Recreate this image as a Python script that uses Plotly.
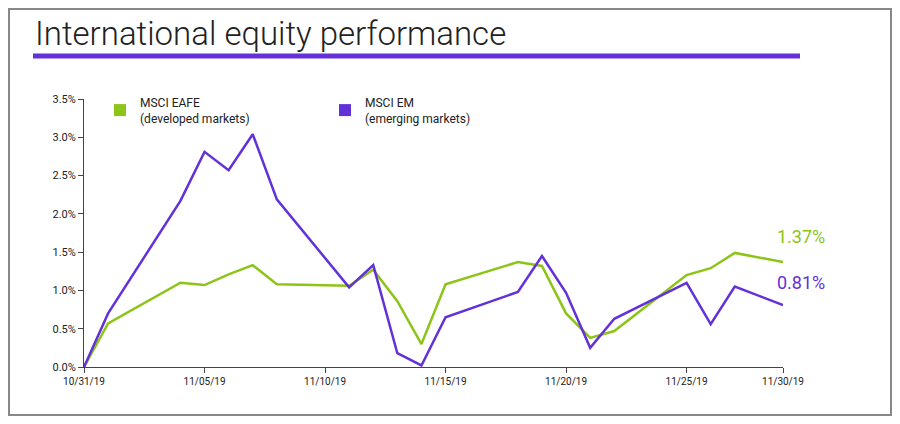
import plotly.graph_objects as go

dates = ["2019-10-31", "2019-11-01", "2019-11-04", "2019-11-05", "2019-11-06", "2019-11-07",
         "2019-11-08", "2019-11-11", "2019-11-12", "2019-11-13", "2019-11-14", "2019-11-15",
         "2019-11-18", "2019-11-19", "2019-11-20", "2019-11-21", "2019-11-22", "2019-11-25",
         "2019-11-26", "2019-11-27", "2019-11-29"]
eafe = [0.0, 0.57, 1.10, 1.07, 1.21, 1.33, 1.08, 1.06, 1.27, 0.86, 0.30, 1.08,
        1.37, 1.32, 0.70, 0.38, 0.47, 1.20, 1.29, 1.49, 1.37]
em = [0.0, 0.70, 2.17, 2.81, 2.57, 3.04, 2.19, 1.04, 1.33, 0.18, 0.02, 0.65,
      0.98, 1.45, 0.97, 0.25, 0.63, 1.10, 0.56, 1.05, 0.81]
tick_dates = ["2019-10-31", "2019-11-05", "2019-11-10", "2019-11-15", "2019-11-20",
              "2019-11-25", "2019-11-29"]
tick_text = ["10/31/19", "11/05/19", "11/10/19", "11/15/19", "11/20/19", "11/25/19", "11/30/19"]

GREEN = "#8cc418"
PURPLE = "#6331d8"
FONT = "Roboto"

fig = go.Figure()
fig.add_trace(go.Scatter(x=dates, y=eafe, mode="lines", line=dict(color=GREEN, width=2.5), showlegend=False))
fig.add_trace(go.Scatter(x=dates, y=em, mode="lines", line=dict(color=PURPLE, width=2.5), showlegend=False))
# legend entries with square swatches
fig.add_trace(go.Scatter(x=[None], y=[None], mode="markers", marker=dict(symbol="square", size=10, color=GREEN),
                         name="MSCI EAFE<br>(developed markets)"))
fig.add_trace(go.Scatter(x=[None], y=[None], mode="markers", marker=dict(symbol="square", size=10, color=PURPLE),
                         name="MSCI EM<br>(emerging markets)"))

# end labels
fig.add_annotation(x=dates[-1], y=eafe[-1], text=f"{eafe[-1]:.2f}%", showarrow=False,
                   yshift=26, xanchor="left", xshift=-8, font=dict(size=18, color=GREEN, family=FONT))
fig.add_annotation(x=dates[-1], y=em[-1], text=f"{em[-1]:.2f}%", showarrow=False,
                   yshift=22, xanchor="left", xshift=-8, font=dict(size=18, color=PURPLE, family=FONT))

# title and rule
fig.add_annotation(xref="paper", yref="paper", x=(33 - 84) / 699, y=(367 - 34) / 268,
                   text="International equity performance", showarrow=False, xanchor="left",
                   yanchor="middle", font=dict(size=33, color="#222222", family="Roboto Light, Roboto"))
fig.add_shape(type="line", xref="paper", yref="paper", x0=(33 - 84) / 699, x1=(800 - 84) / 699,
              y0=(367 - 56) / 268, y1=(367 - 56) / 268, line=dict(color=PURPLE, width=5))
fig.add_shape(type="rect", xref="paper", yref="paper", x0=(9 - 84) / 699, x1=(891 - 84) / 699,
              y0=(367 - 415) / 268, y1=(367 - 9) / 268, line=dict(color="#888888", width=2))

fig.update_layout(
    width=884, height=408, margin=dict(l=76, r=109, t=91, b=49),
    plot_bgcolor="white", paper_bgcolor="white",
    font=dict(family=FONT, size=11, color="#222222"),
    legend=dict(orientation="h", x=(100 - 84) / 699, y=(367 - 88) / 268, xanchor="left", yanchor="top",
                font=dict(size=12), entrywidth=180, bgcolor="rgba(0,0,0,0)", itemsizing="constant"),
    xaxis=dict(type="date", range=["2019-10-31", "2019-11-29"], tickvals=tick_dates, ticktext=tick_text,
               showgrid=False, showline=True, linecolor="#444", ticks="outside", ticklen=5,
               tickcolor="#444", tickfont=dict(size=10)),
    yaxis=dict(range=[0, 3.5], dtick=0.5, tickformat=".1f", ticksuffix="%", showgrid=False,
               showline=True, linecolor="#444", ticks="outside", ticklen=5, tickcolor="#444",
               zeroline=False, tickfont=dict(size=11)),
)
fig.write_html("out.html")
